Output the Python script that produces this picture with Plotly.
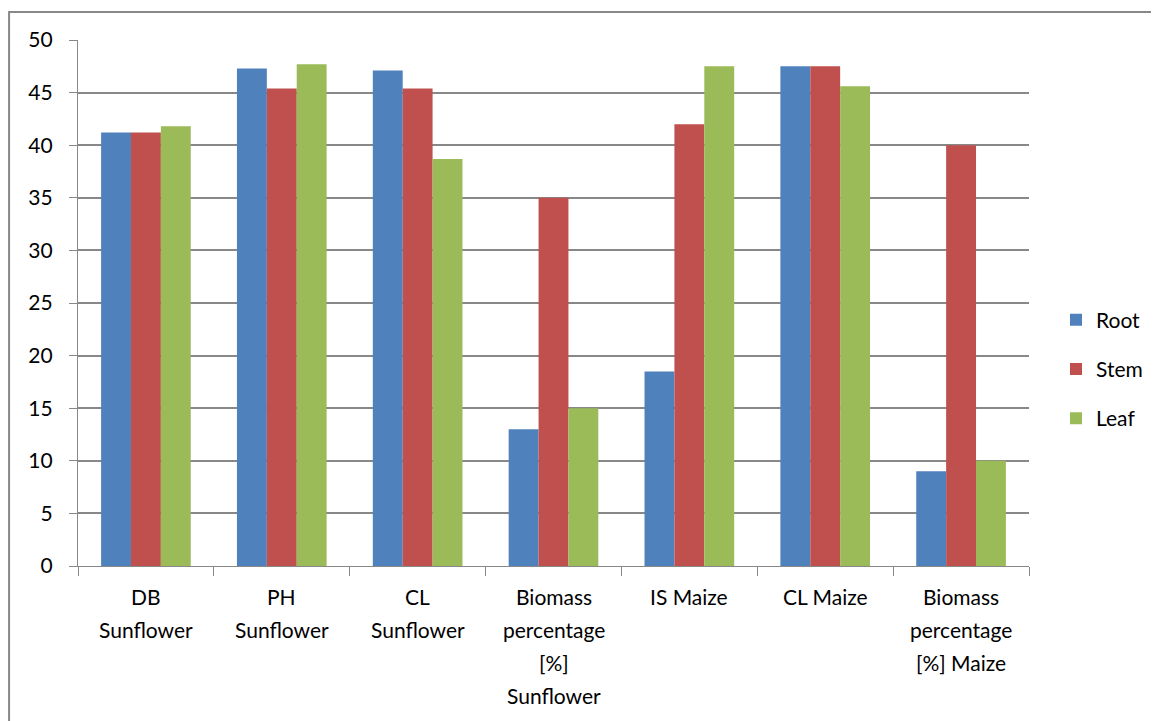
import plotly.graph_objects as go

categories = [
    "DB\nSunflower",
    "PH\nSunflower",
    "CL\nSunflower",
    "Biomass\npercentage\n[%]\nSunflower",
    "IS Maize",
    "CL Maize",
    "Biomass\npercentage\n[%] Maize",
]
root = [41.2, 47.3, 47.1, 13.0, 18.5, 47.5, 9.0]
stem = [41.2, 45.4, 45.4, 35.0, 42.0, 47.5, 40.0]
leaf = [41.8, 47.7, 38.7, 15.0, 47.5, 45.6, 10.0]
y_ticks = [0, 5, 10, 15, 20, 25, 30, 35, 40, 45, 50]

series = [("Root", root, "#4F81BD"), ("Stem", stem, "#C0504D"), ("Leaf", leaf, "#9BBB59")]

FONT = "Lato"
FS = 21
GRID = "#888888"

# page body has an 8px margin; figure sized to fit the window
OFF = 8
W, H = 1159 - OFF, 721 - OFF
L, R, T, B = 78 - OFF, 1030 - OFF, 40 - OFF, 566 - OFF
pw, ph = R - L, B - T

fig = go.Figure()
for name, vals, color in series:
    fig.add_trace(go.Bar(
        name=name, x=categories, y=vals, marker_color=color,
        marker_line_width=0, legendgroup=name,
    ))

# category labels, one annotation per line (Excel-like line spacing)
for cat in categories:
    for i, line in enumerate(cat.split("\n")):
        fig.add_annotation(
            x=cat, y=0, xref="x", yref="paper", text=line, showarrow=False,
            yanchor="middle", yshift=-(30 + 33.3 * i),
            font=dict(family=FONT, size=FS, color="#000000"),
        )

# outer chart border
fig.add_shape(
    type="rect", xref="paper", yref="paper",
    x0=(9 - OFF - L) / pw, x1=(1175 - L) / pw,
    y0=(B - 740) / ph, y1=(B - (12 - OFF)) / ph,
    line=dict(color=GRID, width=2), fillcolor="rgba(0,0,0,0)", layer="below",
)

fig.update_layout(
    width=W, height=H,
    margin=dict(l=L, r=W - R, t=T, b=H - B),
    paper_bgcolor="white", plot_bgcolor="white",
    barmode="group", bargap=0.34, bargroupgap=0,
    font=dict(family=FONT, size=FS, color="#000000"),
    showlegend=True,
    legend=dict(
        x=(1056 - OFF - L) / pw, xanchor="left", y=(B - (369 - OFF)) / ph, yanchor="middle",
        font=dict(family=FONT, size=FS), tracegroupgap=19,
        itemwidth=30, bgcolor="rgba(0,0,0,0)",
    ),
    xaxis=dict(
        type="category", showticklabels=False, tickson="boundaries",
        ticks="outside", ticklen=9, tickcolor=GRID, tickwidth=1.3,
        showline=True, linecolor=GRID, linewidth=1.3,
        showgrid=False, range=[-0.5, 6.5],
    ),
    yaxis=dict(
        range=[0, 50], tickvals=y_ticks, ticks="outside", ticklen=8,
        tickcolor=GRID, tickwidth=1.3, showline=True, linecolor=GRID,
        linewidth=1.3, showgrid=True, gridcolor=GRID, gridwidth=1.6,
        zeroline=False, ticklabelstandoff=12,
        tickfont=dict(family=FONT, size=FS),
    ),
)

fig.write_html("out.html")
